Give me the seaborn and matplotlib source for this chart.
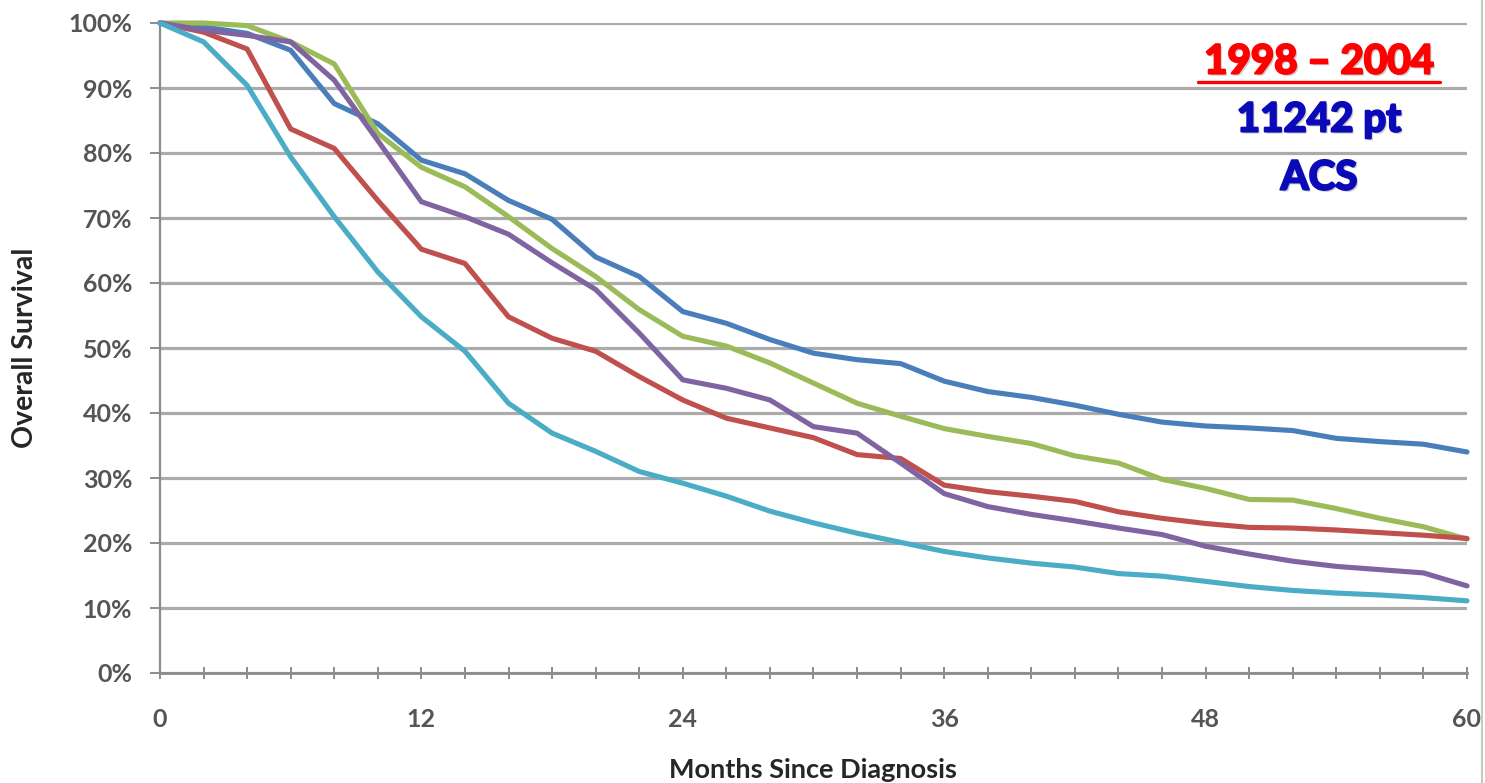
import numpy as np
import pandas as pd
import matplotlib
matplotlib.use("Agg")
import matplotlib.pyplot as plt
from matplotlib.lines import Line2D
import matplotlib.patheffects as pe
import seaborn as sns

# ---- data ----
months = list(range(0, 61, 2))

blue = [100, 99.4, 98.4, 95.8, 87.6, 84.5, 78.9, 76.8, 72.7, 69.8, 64.0, 61.0, 55.6,
        53.8, 51.3, 49.2, 48.2, 47.6, 44.9, 43.3, 42.4, 41.2, 39.8, 38.6, 38.0, 37.7,
        37.3, 36.1, 35.6, 35.2, 34.0]
green = [100, 100, 99.6, 97.1, 93.7, 83.0, 77.8, 74.8, 70.2, 65.3, 61.0, 55.9, 51.8,
         50.3, 47.7, 44.6, 41.5, 39.5, 37.6, 36.4, 35.3, 33.4, 32.3, 29.8, 28.4, 26.7,
         26.6, 25.3, 23.8, 22.5, 20.6]
red = [100, 98.6, 96.0, 83.7, 80.7, 72.7, 65.2, 63.0, 54.8, 51.5, 49.5, 45.6, 42.0,
       39.2, 37.7, 36.2, 33.6, 33.0, 28.9, 27.9, 27.2, 26.4, 24.8, 23.8, 23.0, 22.4,
       22.3, 22.0, 21.6, 21.2, 20.7]
purple = [100, 98.9, 98.1, 97.1, 91.2, 81.9, 72.5, 70.2, 67.5, 63.1, 59.0, 52.3, 45.1,
          43.8, 42.0, 37.9, 36.9, 32.3, 27.6, 25.6, 24.4, 23.4, 22.3, 21.3, 19.5, 18.3,
          17.2, 16.4, 15.9, 15.4, 13.4]
cyan = [100, 97.1, 90.4, 79.4, 70.2, 61.7, 54.8, 49.5, 41.5, 36.9, 34.1, 31.0, 29.2,
        27.2, 24.9, 23.1, 21.5, 20.1, 18.7, 17.7, 16.9, 16.3, 15.3, 14.9, 14.1, 13.3,
        12.7, 12.3, 12.0, 11.6, 11.1]

series_names = ["Series A", "Series B", "Series C", "Series D", "Series E"]
series_values = [blue, green, red, purple, cyan]
series_colors = ["#4A7EBB", "#9BBB59", "#C0504D", "#8064A2", "#4BACC6"]

y_ticks = list(range(0, 101, 10))
y_ticklabels = [f"{v}%" for v in y_ticks]
x_labeled = [0, 12, 24, 36, 48, 60]

annot_lines = ["1998 \u2013 2004", "11242 pt", "ACS"]

# ---- build long table ----
rows = []
for name, vals in zip(series_names, series_values):
    for m, v in zip(months, vals):
        rows.append({"Months": m, "Survival": v, "Series": name})
df = pd.DataFrame(rows)

sns.set_theme(style="white")
plt.rcParams["font.family"] = ["Lato", "DejaVu Sans"]

W, H = 1485, 783
fig = plt.figure(figsize=(W / 100, H / 100), dpi=100)
fig.patch.set_facecolor("white")
ax = fig.add_axes([160 / W, 1 - 673 / H, (1467 - 160) / W, (673 - 23) / H])

sns.lineplot(data=df, x="Months", y="Survival", hue="Series",
             palette=dict(zip(series_names, series_colors)),
             hue_order=series_names, linewidth=3.7, legend=False, ax=ax,
             zorder=3)
for ln in ax.lines:
    ln.set_clip_on(False)
    ln.set_solid_joinstyle("round")

ax.set_xlim(0, 60)
ax.set_ylim(0, 100)

ax.set_yticks(y_ticks)
ax.set_yticklabels(y_ticklabels)
ax.set_xticks(months)
ax.set_xticklabels([str(m) if m in x_labeled else "" for m in months])

ax.yaxis.grid(True, color="#ABABAB", linewidth=2.3, zorder=0)
ax.xaxis.grid(False)
ax.set_axisbelow(True)

for s in ["top", "right"]:
    ax.spines[s].set_visible(False)
ax.spines["left"].set_color("#8C8C8C")
ax.spines["left"].set_linewidth(1.6)
ax.spines["bottom"].set_color("#8C8C8C")
ax.spines["bottom"].set_linewidth(2.0)

ax.tick_params(axis="y", which="major", direction="out", length=7, width=1.4,
               color="#8C8C8C", pad=13, labelsize=18, labelcolor="#555555", left=True)
ax.tick_params(axis="x", which="major", direction="inout", length=9, width=1.4,
               color="#8C8C8C", pad=21, labelsize=18, labelcolor="#555555", bottom=True)
for lbl in ax.get_yticklabels() + ax.get_xticklabels():
    lbl.set_fontweight("bold")

ax.set_xlabel("")
ax.set_ylabel("")

fig.text(25 / W, 1 - 348 / H, "Overall Survival", rotation=90, ha="center", va="center",
         fontsize=20.5, fontweight="bold", color="#262626")
fig.text(813 / W, 1 - 770 / H, "Months Since Diagnosis", ha="center", va="center",
         fontsize=19.5, fontweight="bold", color="#262626")

# annotation block
def heavy(color):
    return [pe.withSimplePatchShadow(offset=(1.5, -1.5), shadow_rgbFace="#999999", alpha=0.5),
            pe.withStroke(linewidth=1.6, foreground=color)]

fig.text(1319 / W, 1 - 62 / H, annot_lines[0], ha="center", va="center",
         fontsize=29, fontweight="bold", color="#FF0000", path_effects=heavy("#FF0000"))
fig.add_artist(Line2D([1198 / W, 1440 / W], [1 - 82 / H, 1 - 82 / H],
                      color="#FF0000", linewidth=2.4))
fig.text(1319 / W, 1 - 120 / H, annot_lines[1], ha="center", va="center",
         fontsize=29, fontweight="bold", color="#0A0AB8", path_effects=heavy("#0A0AB8"))
fig.text(1319 / W, 1 - 178 / H, annot_lines[2], ha="center", va="center",
         fontsize=29, fontweight="bold", color="#0A0AB8", path_effects=heavy("#0A0AB8"))

# chart frame edge at right
fig.add_artist(Line2D([1482 / W, 1482 / W], [0, 1], color="#C8C8C8", linewidth=1.5))

fig.savefig("out.png", dpi=100, facecolor="white")
